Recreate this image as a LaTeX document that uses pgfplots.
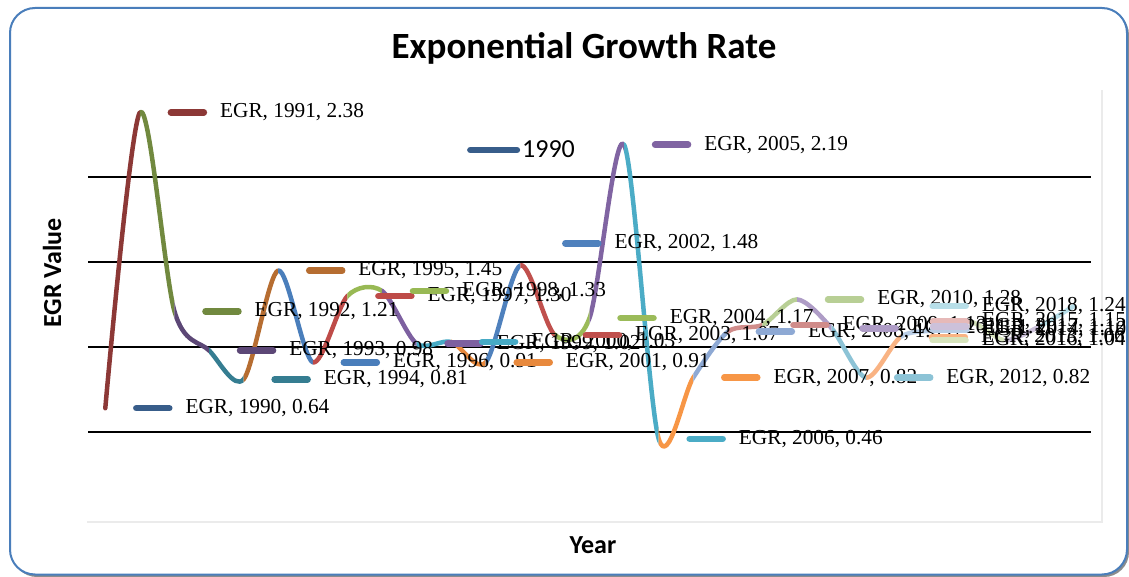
\documentclass[border=0pt]{standalone}
\usepackage{pgfplots}
\pgfplotsset{compat=1.18}
\usepackage{fontspec}
\setmainfont{Liberation Serif}
\newfontfamily\carlito{Carlito}
% colours
\definecolor{y1990}{HTML}{385D8A}
\definecolor{y1991}{HTML}{8C3836}
\definecolor{y1992}{HTML}{71893F}
\definecolor{y1993}{HTML}{5C4776}
\definecolor{y1994}{HTML}{357D91}
\definecolor{y1995}{HTML}{B66D31}
\definecolor{y1996}{HTML}{4A7EBB}
\definecolor{y1997}{HTML}{BE4B48}
\definecolor{y1998}{HTML}{98B954}
\definecolor{y1999}{HTML}{7D60A0}
\definecolor{y2000}{HTML}{46AAC5}
\definecolor{y2001}{HTML}{E8893D}
\definecolor{y2002}{HTML}{4F81BD}
\definecolor{y2003}{HTML}{C0504D}
\definecolor{y2004}{HTML}{9BBB59}
\definecolor{y2005}{HTML}{8064A2}
\definecolor{y2006}{HTML}{4BACC6}
\definecolor{y2007}{HTML}{F79646}
\definecolor{y2008}{HTML}{8EA9D4}
\definecolor{y2009}{HTML}{D08C8A}
\definecolor{y2010}{HTML}{B8CF95}
\definecolor{y2011}{HTML}{AE9CC6}
\definecolor{y2012}{HTML}{8CC3D6}
\definecolor{y2013}{HTML}{F9B383}
\definecolor{y2014}{HTML}{B9CDE5}
\definecolor{y2015}{HTML}{E6B9B8}
\definecolor{y2016}{HTML}{D7E4BD}
\definecolor{y2017}{HTML}{CCC1DA}
\definecolor{y2018}{HTML}{B7DEE8}
\definecolor{frameblue}{HTML}{4A7EBB}
\newcommand\labfont{\fontsize{21.3}{25}\selectfont}
% one coloured piece of the smoothed line
\newcommand{\seg}[4]{%
  \begin{scope}
    \clip (axis cs:#2,-1) rectangle (axis cs:#3,4);
    \addplot[color=#1, line width=4.5pt, smooth, line cap=round, line join=round, forget plot] coordinates {#4};
  \end{scope}}
% data label with key line
\newcommand{\lab}[6]{%
  \draw[color=#3, line width=6.5pt, line cap=round]
    ([xshift={(#4+3)*1pt}, yshift={(#5)*1pt}]axis cs:#1,#2) --
    ([xshift={(#4+36)*1pt}, yshift={(#5)*1pt}]axis cs:#1,#2)
    node[anchor=west, text=black, inner sep=0pt, xshift=13pt, font=\labfont]{#6};}
\begin{document}
\begin{tikzpicture}
\path[use as bounding box] (0pt,0pt) rectangle (1129pt,576pt);
\fill[black!45, rounded corners=25pt] (12pt,-1pt) rectangle (1129pt,566pt);
\draw[draw=frameblue, fill=white, line width=2pt, rounded corners=25pt] (10pt,1.5pt) rectangle (1127pt,568pt);
\fill[black!8] (87pt,53pt) rectangle (1103pt,486pt);
\fill[white] (85pt,55pt) rectangle (1101pt,488pt);
\begin{axis}[
  at={(88pt,59pt)}, anchor=south west,
  scale only axis, width=1003pt, height=425pt,
  xmin=1989.5, xmax=2018.5, ymin=0, ymax=2.5,
  xtick=\empty, ytick={0.5,1,1.5,2}, yticklabels={,,,},
  ymajorgrids, grid style={black, line width=1.6pt},
  axis line style={draw=none}, major tick length=0pt,
  clip=false,
  legend style={draw=none, fill=none, inner sep=0pt, outer sep=0pt,
    font=\carlito\fontsize{26}{30}\selectfont,
    at={(0.378,0.8635)}, anchor=west},
  legend image code/.code={\draw[#1, line width=6pt, line cap=round] (3pt,0pt) -- (50pt,0pt);},
]
\seg{y1991}{1989}{1991}{(1990,0.64)(1991,2.38)(1992,1.21)}
\seg{y1992}{1991}{1992}{(1990,0.64)(1991,2.38)(1992,1.21)(1993,0.98)}
\seg{y1993}{1992}{1993}{(1991,2.38)(1992,1.21)(1993,0.98)(1994,0.81)}
\seg{y1994}{1993}{1994}{(1992,1.21)(1993,0.98)(1994,0.81)(1995,1.45)}
\seg{y1995}{1994}{1995}{(1993,0.98)(1994,0.81)(1995,1.45)(1996,0.91)}
\seg{y1996}{1995}{1996}{(1994,0.81)(1995,1.45)(1996,0.91)(1997,1.30)}
\seg{y1997}{1996}{1997}{(1995,1.45)(1996,0.91)(1997,1.30)(1998,1.33)}
\seg{y1998}{1997}{1998}{(1996,0.91)(1997,1.30)(1998,1.33)(1999,1.02)}
\seg{y1999}{1998}{1999}{(1997,1.30)(1998,1.33)(1999,1.02)(2000,1.03)}
\seg{y2000}{1999}{2000}{(1998,1.33)(1999,1.02)(2000,1.03)(2001,0.91)}
\seg{y2001}{2000}{2001}{(1999,1.02)(2000,1.03)(2001,0.91)(2002,1.48)}
\seg{y2002}{2001}{2002}{(2000,1.03)(2001,0.91)(2002,1.48)(2003,1.07)}
\seg{y2003}{2002}{2003}{(2001,0.91)(2002,1.48)(2003,1.07)(2004,1.17)}
\seg{y2004}{2003}{2004}{(2002,1.48)(2003,1.07)(2004,1.17)(2005,2.19)}
\seg{y2005}{2004}{2005}{(2003,1.07)(2004,1.17)(2005,2.19)(2006,0.46)}
\seg{y2006}{2005}{2006}{(2004,1.17)(2005,2.19)(2006,0.46)(2007,0.82)}
\seg{y2007}{2006}{2007}{(2005,2.19)(2006,0.46)(2007,0.82)(2008,1.09)}
\seg{y2008}{2007}{2008}{(2006,0.46)(2007,0.82)(2008,1.09)(2009,1.13)}
\seg{y2009}{2008}{2009}{(2007,0.82)(2008,1.09)(2009,1.13)(2010,1.28)}
\seg{y2010}{2009}{2010}{(2008,1.09)(2009,1.13)(2010,1.28)(2011,1.11)}
\seg{y2011}{2010}{2011}{(2009,1.13)(2010,1.28)(2011,1.11)(2012,0.82)}
\seg{y2012}{2011}{2012}{(2010,1.28)(2011,1.11)(2012,0.82)(2013,1.06)}
\seg{y2013}{2012}{2013}{(2011,1.11)(2012,0.82)(2013,1.06)(2014,1.10)}
\seg{y2014}{2013}{2014}{(2012,0.82)(2013,1.06)(2014,1.10)(2015,1.15)}
\seg{y2015}{2014}{2015}{(2013,1.06)(2014,1.10)(2015,1.15)(2016,1.04)}
\seg{y2016}{2015}{2016}{(2014,1.10)(2015,1.15)(2016,1.04)(2017,1.12)}
\seg{y2017}{2016}{2017}{(2015,1.15)(2016,1.04)(2017,1.12)(2018,1.24)}
\seg{y2018}{2017}{2019}{(2016,1.04)(2017,1.12)(2018,1.24)}
\addlegendimage{color=y1990}
\addlegendentry{1990}
\lab{1990}{0.64}{y1990}{28}{0}{EGR, 1990, 0.64}
\lab{1991}{2.38}{y1991}{28}{0}{EGR, 1991, 2.38}
\lab{1992}{1.21}{y1992}{28}{0}{EGR, 1992, 1.21}
\lab{1993}{0.98}{y1993}{28}{0}{EGR, 1993, 0.98}
\lab{1994}{0.81}{y1994}{28}{0}{EGR, 1994, 0.81}
\lab{1995}{1.45}{y1995}{28}{0}{EGR, 1995, 1.45}
\lab{1996}{0.91}{y1996}{28}{0}{EGR, 1996, 0.91}
\lab{1997}{1.30}{y1997}{28}{0}{EGR, 1997, 1.30}
\lab{1998}{1.33}{y1998}{28}{0}{EGR, 1998, 1.33}
\lab{1999}{1.02}{y1999}{28}{0}{EGR, 1999, 1.02}
\lab{2000}{1.03}{y2000}{28}{0}{EGR, 2000, 1.03}
\lab{2001}{0.91}{y2001}{28}{0}{EGR, 2001, 0.91}
\lab{2002}{1.48}{y2002}{42}{22}{EGR, 2002, 1.48}
\lab{2003}{1.07}{y2003}{28}{0}{EGR, 2003, 1.07}
\lab{2004}{1.17}{y2004}{28}{0}{EGR, 2004, 1.17}
\lab{2005}{2.19}{y2005}{28}{0}{EGR, 2005, 2.19}
\lab{2006}{0.46}{y2006}{28}{0}{EGR, 2006, 0.46}
\lab{2007}{0.82}{y2007}{28}{0}{EGR, 2007, 0.82}
\lab{2008}{1.09}{y2008}{28}{0}{EGR, 2008, 1.09}
\lab{2009}{1.13}{y2009}{28}{0}{EGR, 2009, 1.13}
\lab{2010}{1.28}{y2010}{28}{0}{EGR, 2010, 1.28}
\lab{2011}{1.11}{y2011}{28}{0}{EGR, 2011, 1.11}
\lab{2012}{0.82}{y2012}{28}{0}{EGR, 2012, 0.82}
\lab{2013}{1.06}{y2013}{28}{0}{EGR, 2013, 1.06}
\lab{2014}{1.10}{y2014}{-5}{0}{EGR, 2014, 1.10}
\lab{2015}{1.15}{y2015}{-40}{0}{EGR, 2015, 1.15}
\lab{2016}{1.04}{y2016}{-75}{0}{EGR, 2016, 1.04}
\lab{2017}{1.12}{y2017}{-109}{0}{EGR, 2017, 1.12}
\lab{2018}{1.24}{y2018}{-144}{0}{EGR, 2018, 1.24}
\end{axis}
\node[font=\carlito\bfseries\fontsize{37}{44}\selectfont] at (584pt,528pt) {Exponential Growth Rate};
\node[rotate=90, font=\carlito\bfseries\fontsize{26}{30}\selectfont] at (52pt,303pt) {EGR Value};
\node[font=\carlito\bfseries\fontsize{26}{30}\selectfont] at (593pt,31pt) {Year};
\end{tikzpicture}
\end{document}
